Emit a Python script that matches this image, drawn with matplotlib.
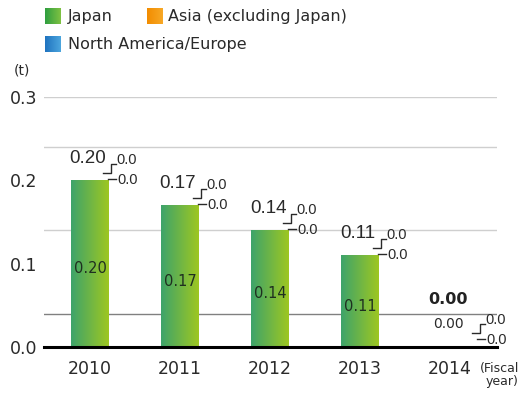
import numpy as np
import matplotlib
matplotlib.use('Agg')
import matplotlib.pyplot as plt
from matplotlib.transforms import Affine2D, ScaledTranslation
from matplotlib.colors import LinearSegmentedColormap

# ---- data ----
years = ['2010', '2011', '2012', '2013', '2014']
japan = [0.20, 0.17, 0.14, 0.11, 0.00]
asia = [0.0, 0.0, 0.0, 0.0, 0.0]
na_eu = [0.0, 0.0, 0.0, 0.0, 0.0]
total_labels = ['0.20', '0.17', '0.14', '0.11', '0.00']
inner_labels = ['0.20', '0.17', '0.14', '0.11', '0.00']
asia_labels = ['0.0', '0.0', '0.0', '0.0', '0.0']
na_labels = ['0.0', '0.0', '0.0', '0.0', '0.0']
y_ticks = [0.0, 0.1, 0.2, 0.3]
y_tick_labels = ['0.0', '0.1', '0.2', '0.3']
legend_names = ['Japan', 'Asia (excluding Japan)', 'North America/Europe']

TXT = '#2a2a2a'
NARROW = ['Liberation Sans', 'DejaVu Sans']

fig = plt.figure(figsize=(5.22, 3.94), dpi=100)
W, H = 522, 394
ax = fig.add_axes([44 / W, 47 / H, 453 / W, 250 / H])
ax.set_xlim(-0.511, 4.522)
ax.set_ylim(0, 0.3)
for s in ax.spines.values():
    s.set_visible(False)

# grid lines
for lvl, col in [(0.3, '#cfcfcf'), (0.24, '#cfcfcf'), (0.14, '#cfcfcf'), (0.04, '#808080')]:
    ax.axhline(lvl, color=col, lw=1.0, zorder=1)
ax.axhline(0, color='black', lw=2.2, zorder=5, clip_on=False)

bar_cmap = LinearSegmentedColormap.from_list('g', [(0.24, 0.64, 0.42), (0.62, 0.78, 0.13)])
grad = np.linspace(0, 1, 256).reshape(1, -1)
bw = 0.42
x = np.arange(len(years))

def pix_line(xa, ya, pts, **kw):
    tr = Affine2D() + ScaledTranslation(xa, ya, ax.transData)
    xs = [p[0] for p in pts]
    ys = [p[1] for p in pts]
    ax.plot(xs, ys, transform=tr, clip_on=False, **kw)

for i, v in enumerate(japan):
    ax.bar(x[i], v, bw, color='none', edgecolor='none', zorder=2)
    if v > 0:
        ax.imshow(grad, extent=(x[i] - bw / 2, x[i] + bw / 2, 0, v), aspect='auto',
                  cmap=bar_cmap, zorder=2, interpolation='bilinear')
        ax.annotate(inner_labels[i], xy=(x[i], v / 2), xytext=(0, -5), textcoords='offset pixels',
                    ha='center', va='center', fontsize=10.5, color='#1f2f1f', zorder=6)
        ax.annotate(total_labels[i], xy=(x[i], v), xytext=(-2, 21.5), textcoords='offset pixels',
                    ha='center', va='center', fontsize=13.5, family=NARROW, color=TXT, zorder=6)
        sx, sy = 0, 0
    else:
        ax.annotate(inner_labels[i], xy=(x[i], v), xytext=(-2, 47), textcoords='offset pixels',
                    ha='center', va='center', fontsize=11.5, fontweight='bold', color='#222222', zorder=6)
        ax.annotate(total_labels[i], xy=(x[i], v), xytext=(-2, 23), textcoords='offset pixels',
                    ha='center', va='center', fontsize=10, color=TXT, zorder=6)
        sx, sy = 9, 7
    xr = x[i] + bw / 2
    stack = v + asia[i] + na_eu[i]
    pix_line(xr, stack, [(-6 + sx, 7 + sy), (2 + sx, 7 + sy), (2 + sx, 16 + sy), (7 + sx, 16 + sy)],
             color=TXT, lw=1.0, zorder=6)
    pix_line(xr, stack, [(-1 + sx, 1 + sy), (7 + sx, 1 + sy)], color=TXT, lw=1.0, zorder=6)
    ax.annotate(na_labels[i], xy=(xr, stack), xytext=(7.5 + sx, 20 + sy), textcoords='offset pixels',
                ha='left', va='center', fontsize=10.5, family=NARROW, color=TXT, zorder=6)
    ax.annotate(asia_labels[i], xy=(xr, stack), xytext=(8 + sx, 0 + sy), textcoords='offset pixels',
                ha='left', va='center', fontsize=10.5, family=NARROW, color=TXT, zorder=6)

ax.set_yticks(y_ticks)
ax.set_yticklabels(y_tick_labels, fontsize=12.5, color=TXT)
ax.set_xticks(x)
ax.set_xticklabels(years, fontsize=12.5, color=TXT)
ax.tick_params(axis='y', length=0, pad=5)
ax.tick_params(axis='x', length=0, pad=9)

fig.text(22 / W, 1 - 71 / H, '(t)', ha='center', va='center', fontsize=10, color=TXT)
fig.text(519 / W, 1 - 375 / H, '(Fiscal\nyear)', ha='right', va='center', fontsize=9,
         color=TXT, linespacing=1.0, multialignment='right')

# legend
leg_cmaps = [
    LinearSegmentedColormap.from_list('l1', [(0.18, 0.62, 0.25), (0.50, 0.76, 0.26)]),
    LinearSegmentedColormap.from_list('l2', [(0.95, 0.55, 0.0), (0.97, 0.66, 0.15)]),
    LinearSegmentedColormap.from_list('l3', [(0.12, 0.45, 0.75), (0.30, 0.65, 0.87)]),
]
leg_pos = [(45, 8, 68), (147, 8, 168), (45, 36, 68)]
for (lx, ly, tx), name, cm in zip(leg_pos, legend_names, leg_cmaps):
    lax = fig.add_axes([lx / W, 1 - (ly + 16) / H, 16 / W, 16 / H])
    lax.imshow(grad, aspect='auto', cmap=cm)
    lax.axis('off')
    fig.text(tx / W, 1 - (ly + 8) / H, name, ha='left', va='center', fontsize=11.5, color=TXT)

fig.savefig('out.png', dpi=100)
